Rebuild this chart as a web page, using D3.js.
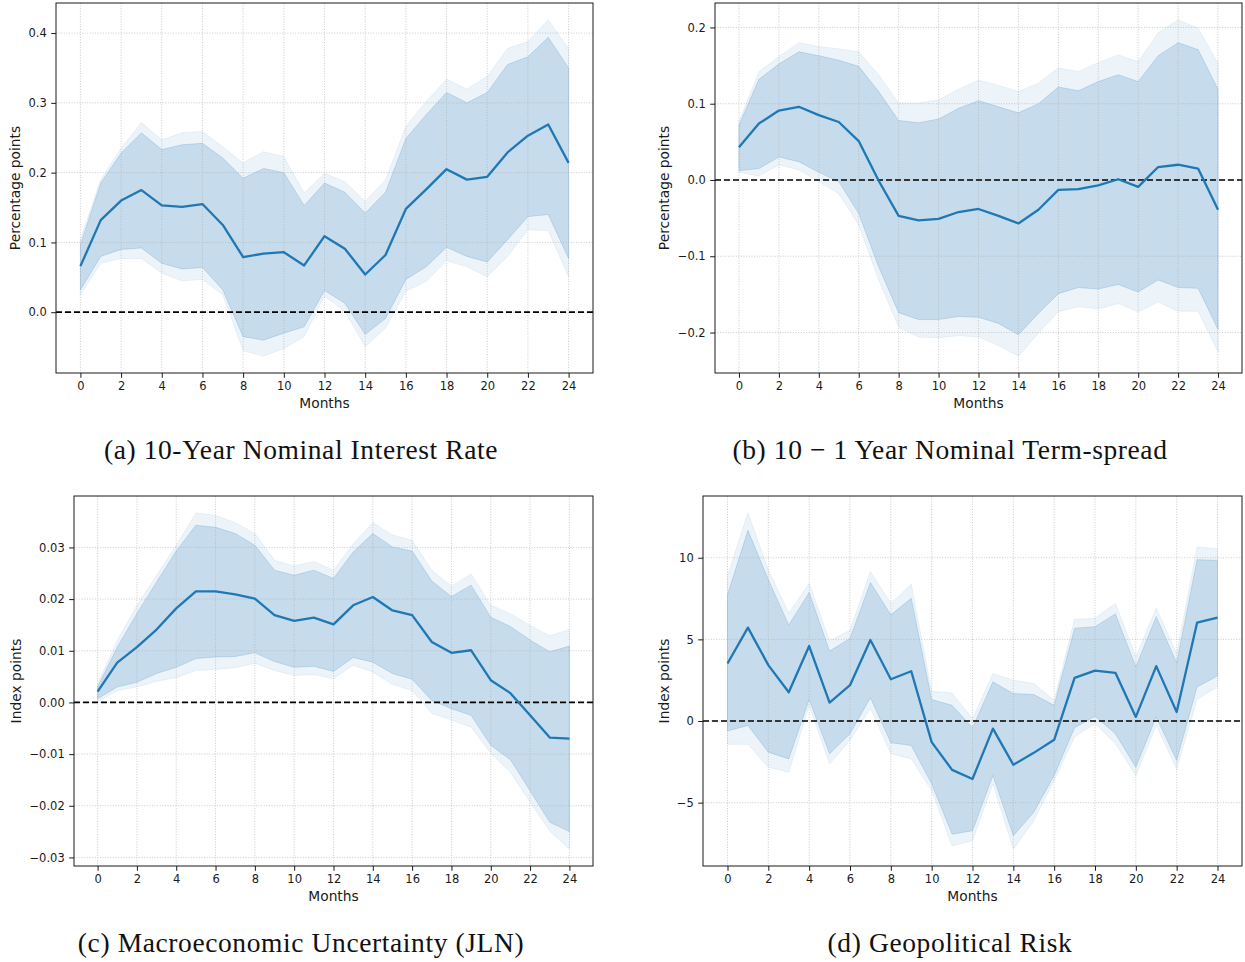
<!DOCTYPE html>
<html>
<head>
<meta charset="utf-8">
<script src="https://cdn.jsdelivr.net/npm/d3@7"></script>
<style>
  html, body { margin: 0; padding: 0; background: #fff; }
  svg { display: block; }
</style>
</head>
<body>
<svg id="chart" width="1245" height="962"></svg>
<script>
// Impulse responses over a 24-month horizon: point estimate with inner and outer confidence bands.
const months = d3.range(0, 25);
const monthTicks = d3.range(0, 25, 2);

// (a) 10-Year nominal interest rate, percentage points
const rateMid     = [0.066,0.132,0.160,0.175,0.153,0.151,0.155,0.125,0.079,0.084,0.086,0.067,0.109,0.091,0.054,0.082,0.148,0.176,0.205,0.190,0.194,0.229,0.253,0.269,0.214];
const rateHiInner = [0.097,0.185,0.228,0.257,0.233,0.240,0.242,0.221,0.192,0.206,0.200,0.153,0.185,0.172,0.142,0.172,0.249,0.283,0.315,0.300,0.315,0.355,0.366,0.394,0.350];
const rateHiOuter = [0.105,0.190,0.235,0.272,0.247,0.257,0.259,0.237,0.214,0.230,0.223,0.171,0.199,0.187,0.159,0.190,0.266,0.302,0.334,0.320,0.338,0.378,0.388,0.419,0.378];
const rateLoInner = [0.032,0.080,0.090,0.092,0.070,0.062,0.064,0.032,-0.035,-0.040,-0.030,-0.021,0.031,0.013,-0.032,-0.009,0.047,0.065,0.093,0.080,0.072,0.104,0.137,0.140,0.077];
const rateLoOuter = [0.025,0.070,0.077,0.077,0.056,0.045,0.047,0.025,-0.055,-0.063,-0.052,-0.035,0.023,0.001,-0.049,-0.023,0.030,0.044,0.074,0.065,0.051,0.080,0.118,0.117,0.051];
const rateTicks   = [0.0, 0.1, 0.2, 0.3, 0.4];

// (b) 10 - 1 year nominal term spread, percentage points
const spreadMid     = [0.043,0.074,0.091,0.096,0.085,0.076,0.051,-0.001,-0.047,-0.053,-0.051,-0.042,-0.038,-0.047,-0.057,-0.039,-0.013,-0.012,-0.007,0.001,-0.009,0.017,0.020,0.015,-0.039];
const spreadHiInner = [0.072,0.132,0.152,0.168,0.163,0.157,0.149,0.116,0.078,0.075,0.080,0.094,0.104,0.096,0.088,0.100,0.122,0.117,0.129,0.138,0.129,0.163,0.180,0.171,0.119];
const spreadHiOuter = [0.077,0.142,0.162,0.180,0.175,0.172,0.168,0.138,0.101,0.101,0.105,0.119,0.131,0.124,0.116,0.127,0.147,0.142,0.154,0.164,0.155,0.193,0.210,0.199,0.153];
const spreadLoInner = [0.012,0.015,0.030,0.024,0.010,-0.002,-0.044,-0.114,-0.174,-0.183,-0.183,-0.179,-0.180,-0.188,-0.203,-0.175,-0.149,-0.141,-0.143,-0.137,-0.147,-0.131,-0.141,-0.142,-0.196];
const spreadLoOuter = [0.010,0.005,0.020,0.013,-0.002,-0.018,-0.059,-0.131,-0.193,-0.206,-0.207,-0.204,-0.206,-0.217,-0.231,-0.201,-0.173,-0.166,-0.169,-0.162,-0.173,-0.160,-0.172,-0.172,-0.226];
const spreadTicks   = [-0.2, -0.1, 0.0, 0.1, 0.2];

// (c) Macroeconomic uncertainty (JLN), index points
const jlnMid     = [0.0021,0.0077,0.0107,0.0141,0.0182,0.0215,0.0215,0.0209,0.0201,0.0169,0.0158,0.0164,0.0151,0.0188,0.0204,0.0178,0.0169,0.0117,0.0096,0.0101,0.0043,0.0018,-0.0025,-0.0068,-0.0070];
const jlnHiInner = [0.0030,0.0107,0.0172,0.0233,0.0293,0.0343,0.0339,0.0327,0.0304,0.0256,0.0246,0.0256,0.0240,0.0291,0.0327,0.0301,0.0293,0.0235,0.0205,0.0227,0.0165,0.0147,0.0121,0.0098,0.0109];
const jlnHiOuter = [0.0036,0.0120,0.0188,0.0246,0.0304,0.0367,0.0362,0.0348,0.0327,0.0275,0.0264,0.0273,0.0256,0.0307,0.0348,0.0324,0.0314,0.0256,0.0225,0.0249,0.0188,0.0172,0.0149,0.0129,0.0141];
const jlnLoInner = [0.0007,0.0030,0.0039,0.0056,0.0068,0.0085,0.0088,0.0089,0.0096,0.0079,0.0068,0.0070,0.0060,0.0087,0.0078,0.0056,0.0045,0.0004,-0.0012,-0.0025,-0.0083,-0.0111,-0.0171,-0.0232,-0.0250];
const jlnLoOuter = [0.0001,0.0023,0.0030,0.0041,0.0048,0.0062,0.0064,0.0067,0.0076,0.0062,0.0052,0.0054,0.0046,0.0072,0.0059,0.0035,0.0023,-0.0021,-0.0034,-0.0048,-0.0099,-0.0135,-0.0193,-0.0249,-0.0284];
const jlnTicks   = [-0.03, -0.02, -0.01, 0.0, 0.01, 0.02, 0.03];

// (d) Geopolitical risk, index points
const gprMid     = [3.52,5.72,3.42,1.76,4.59,1.13,2.19,4.96,2.56,3.05,-1.29,-2.99,-3.55,-0.47,-2.68,-1.95,-1.15,2.64,3.09,2.95,0.25,3.36,0.55,6.02,6.33];
const gprHiInner = [7.73,11.68,8.65,5.88,7.87,4.28,5.06,8.48,6.50,7.52,1.31,0.96,-0.41,2.40,1.68,1.62,0.96,5.68,5.78,6.56,3.32,6.39,3.57,9.88,9.84];
const gprHiOuter = [8.89,12.75,9.26,6.60,8.44,4.90,5.57,9.16,7.21,8.38,1.82,1.72,0.14,2.91,2.50,2.30,1.27,6.23,6.29,7.21,3.93,6.91,4.14,10.66,10.55];
const gprLoInner = [-0.61,-0.27,-1.91,-2.32,1.31,-2.01,-0.78,1.43,-1.33,-1.50,-3.85,-6.93,-6.72,-3.34,-7.03,-5.59,-3.34,-0.41,0.29,-0.78,-2.83,0.25,-2.42,2.09,2.75];
const gprLoOuter = [-1.43,-1.43,-2.83,-3.14,0.96,-2.62,-1.19,0.76,-2.01,-2.32,-4.26,-7.64,-7.34,-3.85,-7.85,-6.11,-3.65,-0.98,-0.16,-1.39,-3.34,-0.27,-2.93,1.33,2.09];
const gprTicks   = [-5, 0, 5, 10];

const BLUE = "#1f77b4";
const svg = d3.select("#chart");
const fmtMinus = f => v => f(v).replace("-", "\u2212");

const panels = [
  { box: {l: 56,  r: 593,  t: 3,   b: 373}, mid: rateMid,   hiI: rateHiInner,   hiO: rateHiOuter,   loI: rateLoInner,   loO: rateLoOuter,
    ticks: rateTicks,   fmt: fmtMinus(d3.format(".1f")), ylabel: "Percentage points", ylabelX: 15,  caption: "(a) 10-Year Nominal Interest Rate", capX: 301, capY: 459 },
  { box: {l: 715, r: 1242, t: 3,   b: 373}, mid: spreadMid, hiI: spreadHiInner, hiO: spreadHiOuter, loI: spreadLoInner, loO: spreadLoOuter,
    ticks: spreadTicks, fmt: fmtMinus(d3.format(".1f")), ylabel: "Percentage points", ylabelX: 664, caption: "(b) 10 \u2212 1 Year Nominal Term-spread", capX: 950, capY: 459 },
  { box: {l: 74,  r: 593,  t: 496, b: 866}, mid: jlnMid,    hiI: jlnHiInner,    hiO: jlnHiOuter,    loI: jlnLoInner,    loO: jlnLoOuter,
    ticks: jlnTicks,    fmt: fmtMinus(d3.format(".2f")), ylabel: "Index points",      ylabelX: 16,  caption: "(c) Macroeconomic Uncertainty (JLN)", capX: 301, capY: 952 },
  { box: {l: 703, r: 1242, t: 496, b: 866}, mid: gprMid,    hiI: gprHiInner,    hiO: gprHiOuter,    loI: gprLoInner,    loO: gprLoOuter,
    ticks: gprTicks,    fmt: fmtMinus(d3.format("d")),   ylabel: "Index points",      ylabelX: 664, caption: "(d) Geopolitical Risk", capX: 950, capY: 952 }
];

panels.forEach((p, idx) => {
  const {l, r, t, b} = p.box;
  const g = svg.append("g");

  // 5% padding around the data, as in the usual autoscaling
  const xPad = 0.05 * 24;
  const x = d3.scaleLinear().domain([-xPad, 24 + xPad]).range([l, r]);
  const all = [].concat(p.hiO, p.loO, p.hiI, p.loI, p.mid);
  const lo = d3.min(all), hi = d3.max(all), pad = 0.05 * (hi - lo);
  const y = d3.scaleLinear().domain([lo - pad, hi + pad]).range([b, t]);

  const clipId = "clip" + idx;
  g.append("clipPath").attr("id", clipId)
    .append("rect").attr("x", l).attr("y", t).attr("width", r - l).attr("height", b - t);
  const plot = g.append("g").attr("clip-path", `url(#${clipId})`);

  const band = (lower, upper) => d3.area()
    .x((d, i) => x(months[i])).y0((d, i) => y(lower[i])).y1((d, i) => y(upper[i]));

  // outer band, then inner band
  plot.append("path").attr("d", band(p.loO, p.hiO)(months))
    .attr("fill", BLUE).attr("fill-opacity", 0.08)
    .attr("stroke", BLUE).attr("stroke-opacity", 0.08).attr("stroke-width", 1);
  plot.append("path").attr("d", band(p.loI, p.hiI)(months))
    .attr("fill", BLUE).attr("fill-opacity", 0.19)
    .attr("stroke", BLUE).attr("stroke-opacity", 0.19).attr("stroke-width", 1);

  // dotted grid
  const grid = plot.append("g").attr("stroke", "#b0b0b0").attr("stroke-width", 0.8)
    .attr("stroke-dasharray", "1,1.6").attr("opacity", 0.8);
  monthTicks.forEach(m => grid.append("line").attr("x1", x(m)).attr("x2", x(m)).attr("y1", t).attr("y2", b));
  p.ticks.forEach(v => grid.append("line").attr("y1", y(v)).attr("y2", y(v)).attr("x1", l).attr("x2", r));

  // zero reference line
  plot.append("line").attr("x1", l).attr("x2", r).attr("y1", y(0)).attr("y2", y(0))
    .attr("stroke", "#000").attr("stroke-width", 1.7).attr("stroke-dasharray", "6,3");

  // point estimate
  plot.append("path").datum(p.mid)
    .attr("d", d3.line().x((d, i) => x(months[i])).y(d => y(d)))
    .attr("fill", "none").attr("stroke", BLUE).attr("stroke-width", 2.3)
    .attr("stroke-linejoin", "round");

  // axes
  const xAxis = d3.axisBottom(x).tickValues(monthTicks).tickSize(4.8).tickPadding(4.5).tickFormat(d3.format("d"));
  const yAxis = d3.axisLeft(y).tickValues(p.ticks).tickSize(4.8).tickPadding(4.5).tickFormat(p.fmt);
  const styleAxis = sel => {
    sel.select(".domain").remove();
    sel.selectAll("text").attr("font-family", "DejaVu Sans").attr("font-size", 11.5).attr("fill", "#1a1a1a");
    sel.selectAll("line").attr("stroke", "#1a1a1a").attr("stroke-width", 1);
  };
  g.append("g").attr("transform", `translate(0,${b})`).call(xAxis).call(styleAxis);
  g.append("g").attr("transform", `translate(${l},0)`).call(yAxis).call(styleAxis);

  // frame
  g.append("rect").attr("x", l).attr("y", t).attr("width", r - l).attr("height", b - t)
    .attr("fill", "none").attr("stroke", "#1a1a1a").attr("stroke-width", 1);

  // axis titles
  g.append("text").attr("x", (l + r) / 2).attr("y", b + 35).attr("text-anchor", "middle")
    .attr("font-family", "DejaVu Sans").attr("font-size", 13.8).attr("fill", "#1a1a1a").text("Months");
  g.append("text").attr("transform", `translate(${p.ylabelX},${(t + b) / 2}) rotate(-90)`)
    .attr("text-anchor", "middle").attr("dominant-baseline", "central")
    .attr("font-family", "DejaVu Sans").attr("font-size", 13.8).attr("fill", "#1a1a1a").text(p.ylabel);

  // caption
  svg.append("text").attr("x", p.capX).attr("y", p.capY).attr("text-anchor", "middle")
    .attr("font-family", "Liberation Serif").attr("font-size", 27.5).attr("letter-spacing", 0.6)
    .attr("fill", "#111").text(p.caption);
});
</script>
</body>
</html>
